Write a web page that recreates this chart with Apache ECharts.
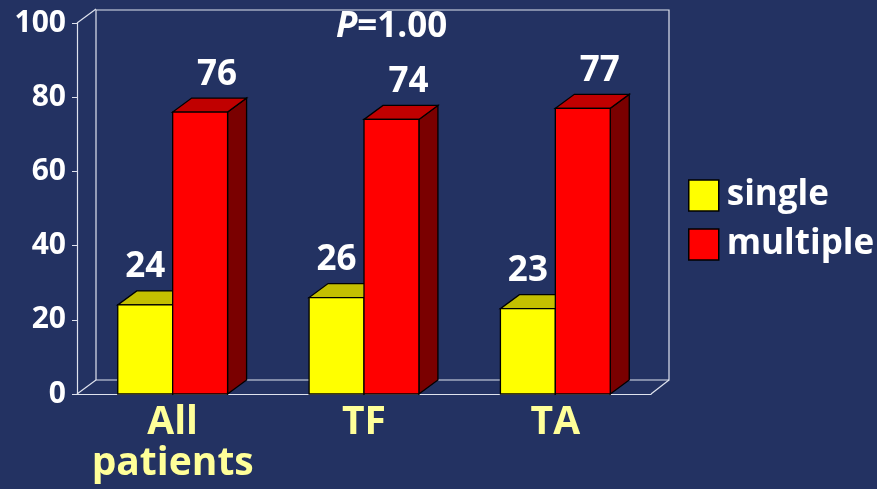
<!DOCTYPE html>
<html><head><meta charset="utf-8">
<script src="https://cdn.jsdelivr.net/npm/echarts@6/dist/echarts.min.js"></script>
<style>html,body{margin:0;padding:0;background:#233262;}#c{width:877px;height:489px;}</style>
</head><body><div id="c"></div>
<script>
const categories = ['All\npatients', 'TF', 'TA'];
const singleValues = [24, 26, 23];
const multipleValues = [76, 74, 77];
const seriesNames = ['single', 'multiple'];
const yTicks = [0, 20, 40, 60, 80, 100];
const pValueText = '1.00';

const FONT = '"Open Sans", "DejaVu Sans", sans-serif';
const DX = 19, DY = 14;
const palettes = [
  { front: '#ffff00', top: '#c4c000', side: '#9a9600', labelShift: 0 },
  { front: '#ff0000', top: '#c00000', side: '#7a0000', labelShift: 17 }
];

function barRenderer(si) {
  return function (params, api) {
    const cat = api.value(0), v = api.value(1);
    const base = api.coord([cat, 0]);
    const top = api.coord([cat, v]);
    const bw = api.size([1, 0])[0] * 0.287;
    const x0 = si === 0 ? base[0] - bw : base[0];
    const x1 = x0 + bw, ty = top[1], by = base[1];
    const p = palettes[si];
    const stroke = { stroke: '#000', lineWidth: 1.3 };
    return {
      type: 'group',
      children: [
        { type: 'polygon', shape: { points: [[x1, ty], [x1 + DX, ty - DY], [x1 + DX, by - DY], [x1, by]] },
          style: Object.assign({ fill: p.side }, stroke) },
        { type: 'polygon', shape: { points: [[x0, ty], [x1, ty], [x1 + DX, ty - DY], [x0 + DX, ty - DY]] },
          style: Object.assign({ fill: p.top }, stroke) },
        { type: 'rect', shape: { x: x0, y: ty, width: bw, height: by - ty },
          style: Object.assign({ fill: p.front }, stroke) },
        { type: 'text', x: (x0 + x1) / 2 + p.labelShift, y: ty - DY - 6,
          style: { text: String(v), fill: '#ffffff', font: 'bold 35px ' + FONT,
                   align: 'center', verticalAlign: 'bottom' } }
      ]
    };
  };
}

function frameRenderer(params, api) {
  const cs = params.coordSys;
  const L = cs.x, R = cs.x + cs.width, T = cs.y, B = cs.y + cs.height;
  const ls = { stroke: '#dfe3ee', lineWidth: 1.2, fill: null };
  return {
    type: 'group',
    children: [
      { type: 'polyline', shape: { points: [[L + DX, B - DY], [L + DX, T - DY + 1], [R + DX - 1, T - DY + 1], [R + DX - 1, B - DY], [L + DX, B - DY]] }, style: ls },
      { type: 'line', shape: { x1: L, y1: T, x2: L + DX, y2: T - DY }, style: ls },
      { type: 'line', shape: { x1: L, y1: B, x2: L + DX, y2: B - DY }, style: ls },
      { type: 'line', shape: { x1: R, y1: B, x2: R + DX - 1, y2: B - DY }, style: ls }
    ]
  };
}

const chart = echarts.init(document.getElementById('c'));
chart.setOption({
  backgroundColor: '#233262',
  animation: false,
  title: {
    text: '{i|P}{n|=' + pValueText + '}',
    left: 336, top: 10, padding: 0,
    textStyle: { rich: {
      i: { fontStyle: 'italic', fontWeight: 'bold', fontSize: 35, color: '#fff', fontFamily: FONT },
      n: { fontWeight: 'bold', fontSize: 35, color: '#fff', fontFamily: FONT }
    } }
  },
  legend: {
    data: [
      { name: seriesNames[0], itemStyle: { color: '#ffff00', borderColor: '#000', borderWidth: 1.5 } },
      { name: seriesNames[1], itemStyle: { color: '#ff0000', borderColor: '#000', borderWidth: 1.5 } }
    ],
    orient: 'vertical', left: 688, top: 178, padding: 0,
    icon: 'rect', itemWidth: 30, itemHeight: 31, itemGap: 14,
    textStyle: { color: '#fff', fontWeight: 'bold', fontSize: 35, lineHeight: 31, fontFamily: FONT, padding: [0, 0, 0, 3] },
    selectedMode: false
  },
  grid: { left: 77, right: 226, top: 23, bottom: 95, containLabel: false },
  xAxis: {
    type: 'category', data: categories,
    axisLine: { show: true, lineStyle: { color: '#dfe3ee', width: 1.2 } },
    axisTick: { show: false },
    axisLabel: { interval: 0, hideOverlap: false, color: '#ffff99', fontWeight: 'bold', fontSize: 39, fontFamily: FONT, lineHeight: 41, margin: 8 }
  },
  yAxis: {
    type: 'value', min: yTicks[0], max: yTicks[yTicks.length - 1], interval: yTicks[1] - yTicks[0],
    axisLine: { show: true, lineStyle: { color: '#dfe3ee', width: 1.2 } },
    axisTick: { show: true, length: 5, lineStyle: { color: '#dfe3ee' } },
    splitLine: { show: false },
    axisLabel: { color: '#fff', fontWeight: 'bold', fontSize: 30, fontFamily: FONT, margin: 11 }
  },
  series: [
    { type: 'custom', name: 'frame', z: 1, silent: true, renderItem: frameRenderer, data: [[0, 0]] },
    { type: 'custom', name: seriesNames[0], z: 3, renderItem: barRenderer(0), encode: { x: 0, y: 1 },
      data: singleValues.map((v, i) => [i, v]), itemStyle: { color: '#ffff00' } },
    { type: 'custom', name: seriesNames[1], z: 3, renderItem: barRenderer(1), encode: { x: 0, y: 1 },
      data: multipleValues.map((v, i) => [i, v]), itemStyle: { color: '#ff0000' } }
  ]
});
</script>
</body></html>
